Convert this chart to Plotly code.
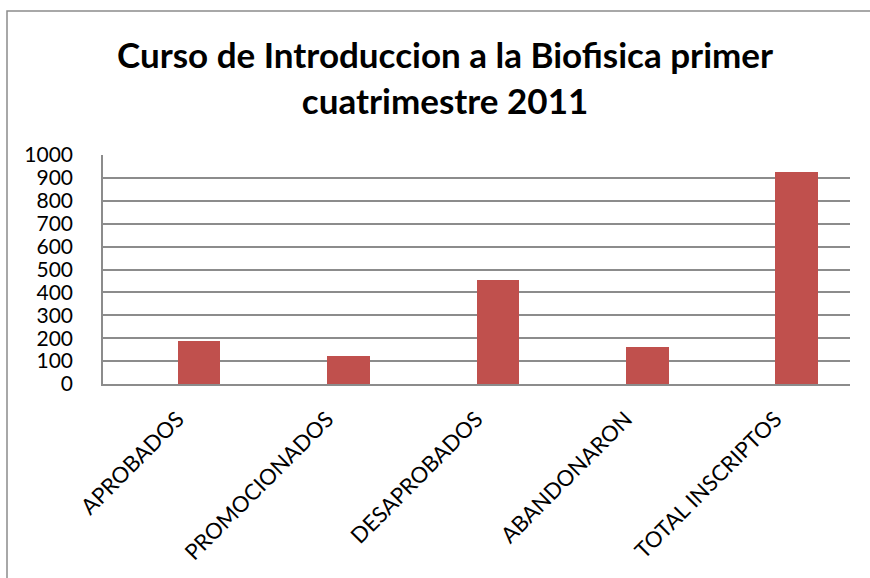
import plotly.graph_objects as go

categories = ["APROBADOS", "PROMOCIONADOS", "DESAPROBADOS", "ABANDONARON", "TOTAL INSCRIPTOS"]
values = [187, 123, 454, 161, 927]
y_ticks = [0, 100, 200, 300, 400, 500, 600, 700, 800, 900, 1000]
title_text = "Curso de Introduccion a la Biofisica primer<br>cuatrimestre 2011"

W, H = 870, 578
L, R, T, B = 103, 20, 155, 194
pw, ph = W - L - R, H - T - B

fig = go.Figure()
fig.add_trace(go.Bar(
    x=categories, y=values,
    marker=dict(color="#C0504D", line=dict(width=0)),
    offset=0, width=0.286,
))

fig.update_layout(
    width=W, height=H,
    margin=dict(l=L, r=R, t=T, b=B),
    paper_bgcolor="white", plot_bgcolor="white",
    showlegend=False,
    font=dict(family="Lato", color="black", size=21),
    bargap=0,
)
fig.add_annotation(
    text=title_text, xref="paper", yref="paper",
    x=(445 - L) / pw, y=(H - B - 77) / ph,
    xanchor="center", yanchor="middle", showarrow=False,
    font=dict(family="Lato", size=35, color="black", weight="bold"),
)
fig.update_xaxes(
    type="category", range=[-0.5, 4.5],
    tickangle=-45, showgrid=False, ticks="",
    showline=True, linecolor="#8c8c8c", linewidth=1.5,
    ticklabelstandoff=12,
    tickfont=dict(family="Lato", size=22, color="black"),
)
fig.update_yaxes(
    range=[0, 1000], tickvals=y_ticks,
    showgrid=True, gridcolor="#8c8c8c", gridwidth=1.5,
    showline=True, linecolor="#8c8c8c", linewidth=1.5,
    ticks="", ticklabelstandoff=24,
    tickfont=dict(family="Lato", size=21, color="black"),
    zeroline=False,
)

# chart-area frame (Excel style), extends beyond the page on right/bottom
fig.add_shape(
    type="rect", xref="paper", yref="paper",
    x0=(7 - L) / pw, x1=(W + 10 - L) / pw,
    y0=(H - B - (H + 10)) / ph, y1=(H - B - 11) / ph,
    line=dict(color="#8c8c8c", width=1.5), fillcolor="rgba(0,0,0,0)",
    layer="below",
)

fig.write_html("out.html", config={"displayModeBar": False})
with open("out.html", encoding="utf-8") as f:
    html = f.read()
html = html.replace("<head>", "<head><style>html,body{margin:0;padding:0;overflow:hidden;}</style>", 1)
with open("out.html", "w", encoding="utf-8") as f:
    f.write(html)
